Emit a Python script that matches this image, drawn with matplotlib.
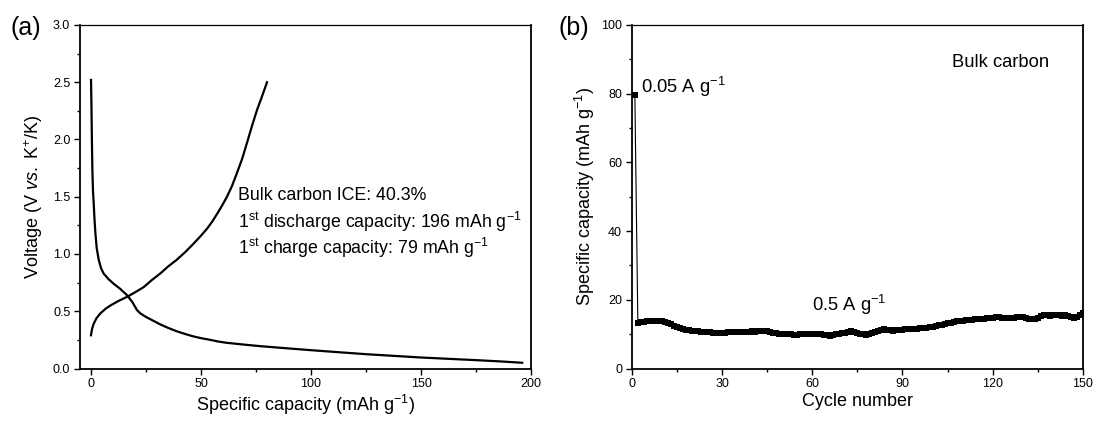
import matplotlib
matplotlib.use("Agg")
import matplotlib.pyplot as plt
from matplotlib.ticker import MultipleLocator, FormatStrFormatter

plt.rcParams['font.family'] = ['Liberation Sans', 'DejaVu Sans']
plt.rcParams['mathtext.fontset'] = 'custom'
plt.rcParams['mathtext.rm'] = 'Liberation Sans'
plt.rcParams['mathtext.it'] = 'Liberation Sans:italic'

# Panel (a): first discharge / charge profile
discharge_cap = [0, 0.2, 0.4, 0.6, 0.9, 1.2, 1.6, 2.0, 2.6, 3.5, 4.5, 5.7, 8.0, 10.3, 13.0,
                 16.4, 18.8, 20.9, 22.5, 25.0, 28.0, 31.5, 35.0, 39.0, 43.0, 46.6, 50.0,
                 54.2, 58.0, 61.8, 70.0, 77.0, 88.0, 100, 112, 125, 138, 150, 163, 175,
                 186, 196]
discharge_v = [2.52, 2.30, 2.00, 1.75, 1.55, 1.45, 1.30, 1.18, 1.05, 0.95, 0.88, 0.83, 0.78,
               0.74, 0.70, 0.64, 0.58, 0.51, 0.48, 0.45, 0.42, 0.385, 0.355, 0.325, 0.30,
               0.28, 0.265, 0.25, 0.235, 0.224, 0.208, 0.195, 0.178, 0.16, 0.143, 0.125,
               0.11, 0.096, 0.084, 0.073, 0.062, 0.05]
charge_cap = [0, 0.4, 1.2, 2.5, 4.2, 6.5, 8.8, 12.5, 16.4, 20.0, 23.9, 27.5, 31.5, 35.0,
              39.0, 43.0, 46.6, 50.0, 52.7, 55.0, 57.3, 59.5, 61.8, 64.0, 66.0, 68.5, 70.9,
              73.2, 75.5, 77.8, 80.0]
charge_v = [0.29, 0.34, 0.39, 0.44, 0.48, 0.52, 0.55, 0.59, 0.626, 0.665, 0.71, 0.77, 0.83,
            0.89, 0.95, 1.02, 1.09, 1.16, 1.22, 1.28, 1.35, 1.42, 1.50, 1.59, 1.69, 1.82,
            1.97, 2.12, 2.26, 2.38, 2.50]

# Panel (b): cycling at 0.05 A/g (cycle 1) then 0.5 A/g
cycles = list(range(1, 151))
capacity = [79.5,
            13.2, 13.4, 13.6, 13.7,
            13.8, 13.8, 13.9, 13.8, 13.7,
            13.5, 13.2, 12.9, 12.5, 12.1,
            11.8, 11.5, 11.3, 11.1, 11.0,
            10.9, 10.8, 10.7, 10.6, 10.5,
            10.5, 10.4, 10.4, 10.3, 10.4,
            10.4, 10.5, 10.5, 10.6, 10.6,
            10.6, 10.7, 10.6, 10.7, 10.8,
            10.7, 10.8, 10.9, 10.9, 10.9,
            10.7, 10.4, 10.2, 10.1, 10.0,
            10.0, 9.9, 9.9, 9.8, 9.8,
            9.9, 9.9, 10.0, 10.0, 10.1,
            10.0, 9.9, 10.0, 9.8, 9.7,
            9.6, 9.8, 10.0, 10.1, 10.2,
            10.4, 10.7, 10.9, 10.6, 10.3,
            10.0, 9.9, 9.8, 10.1, 10.4,
            10.7, 11.0, 11.2, 11.4, 11.3,
            11.2, 11.0, 11.1, 11.3, 11.2,
            11.4, 11.5, 11.4, 11.5, 11.6,
            11.7, 11.8, 11.9, 12.0, 12.2,
            12.4, 12.6, 12.8, 13.0, 13.2,
            13.3, 13.5, 13.7, 13.8, 13.9,
            14.0, 14.1, 14.2, 14.3, 14.4,
            14.5, 14.5, 14.6, 14.7, 14.8,
            14.9, 14.9, 14.8, 14.7, 14.6,
            14.7, 14.8, 14.9, 15.1, 15.0,
            14.7, 14.5, 14.4, 14.4, 14.6,
            15.2, 15.6, 15.5, 15.4, 15.5,
            15.6, 15.5, 15.4, 15.5, 15.3,
            14.9, 14.7, 15.0, 15.6, 16.1]

fig = plt.figure(figsize=(10.96, 4.21), dpi=100)
ax1 = fig.add_axes([0.073, 0.1247, 0.4115, 0.816])
ax2 = fig.add_axes([0.5765, 0.1247, 0.4115, 0.816])


def style(ax):
    for side in ['left', 'bottom', 'right']:
        ax.spines[side].set_linewidth(1.3)
    ax.spines['top'].set_linewidth(0.9)
    ax.tick_params(which='major', direction='out', length=4, width=1, labelsize=9,
                   top=False, right=False, pad=3)
    ax.tick_params(which='minor', direction='out', length=2.5, width=1,
                   top=False, right=False)


# (a)
ax1.plot(discharge_cap, discharge_v, color='black', lw=1.6)
ax1.plot(charge_cap, charge_v, color='black', lw=1.6)
ax1.set_xlim(-5, 200)
ax1.set_ylim(0, 3.0)
ax1.xaxis.set_major_locator(MultipleLocator(50))
ax1.xaxis.set_minor_locator(MultipleLocator(25))
ax1.yaxis.set_major_locator(MultipleLocator(0.5))
ax1.yaxis.set_minor_locator(MultipleLocator(0.25))
ax1.yaxis.set_major_formatter(FormatStrFormatter('%.1f'))
style(ax1)
ax1.set_xlabel(r'Specific capacity (mAh g$^{-1}$)', fontsize=13, labelpad=2)
ax1.set_ylabel(r'Voltage (V $\mathit{vs.}$ K$^{+}$/K)', fontsize=13, labelpad=6)
ax1.text(67, 1.51, 'Bulk carbon ICE: 40.3%', fontsize=12.8, va='center')
ax1.text(67, 1.28, r'1$^{\mathrm{st}}$ discharge capacity: 196 mAh g$^{-1}$', fontsize=12.8,
         va='center')
ax1.text(67, 1.05, r'1$^{\mathrm{st}}$ charge capacity: 79 mAh g$^{-1}$', fontsize=12.8,
         va='center')
fig.text(0.010, 0.933, '(a)', fontsize=18, va='center')

# (b)
ax2.plot(cycles, capacity, color='black', lw=0.8, marker='s', markersize=4.2,
         markeredgewidth=0)
ax2.set_xlim(0, 150)
ax2.set_ylim(0, 100)
ax2.xaxis.set_major_locator(MultipleLocator(30))
ax2.xaxis.set_minor_locator(MultipleLocator(15))
ax2.yaxis.set_major_locator(MultipleLocator(20))
ax2.yaxis.set_minor_locator(MultipleLocator(10))
style(ax2)
ax2.set_xlabel('Cycle number', fontsize=13, labelpad=2)
ax2.set_ylabel(r'Specific capacity (mAh g$^{-1}$)', fontsize=13, labelpad=3)
ax2.text(106.4, 89, 'Bulk carbon', fontsize=13.2, va='center')
ax2.text(3.1, 82, r'0.05 A g$^{-1}$', fontsize=13.2, va='center')
ax2.text(60, 18.6, r'0.5 A g$^{-1}$', fontsize=13.2, va='center')
fig.text(0.510, 0.933, '(b)', fontsize=18, va='center')

fig.savefig('out.png', dpi=100)
